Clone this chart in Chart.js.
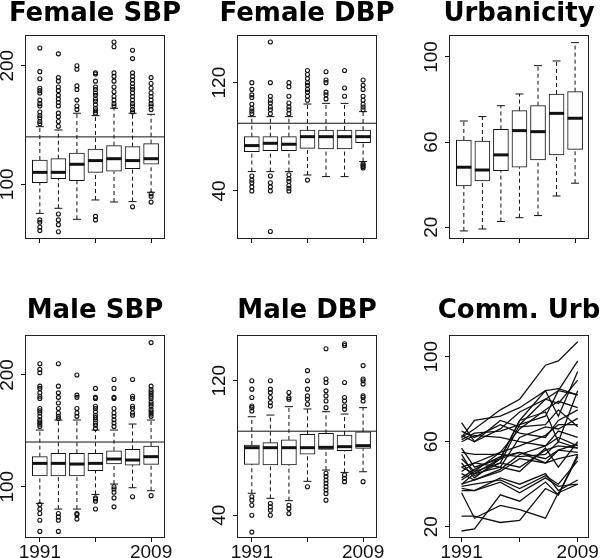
<!DOCTYPE html>
<html><head><meta charset="utf-8">
<script src="https://cdn.jsdelivr.net/npm/chart.js@4/dist/chart.umd.min.js"></script>
<style>
html,body{margin:0;padding:0;background:#fff;overflow:hidden;width:600px;height:558px;position:relative}
canvas{position:absolute}
</style>
</head><body>
<canvas id="p1"></canvas><canvas id="p2"></canvas><canvas id="p3"></canvas>
<canvas id="p4"></canvas><canvas id="p5"></canvas><canvas id="p6"></canvas>
<script>
// ---------- DATA ----------
const years = [1991, 1993, 1997, 2000, 2004, 2006, 2009];
const boxXTicks = [1, 4, 7];
const yearXTicks = [1991, 2000, 2009];
const xTickLabels = ['1991', '', '2009'];

const titles = ['Female SBP', 'Female DBP', 'Urbanicity', 'Male SBP', 'Male DBP', 'Comm. Urb'];
const sbpTicks = [100, 200];
const dbpTicks = [40, 120];
const urbTicks = [20, 60, 100];
const sbpRefLine = 140;
const dbpRefLine = 90;

// box stats per survey year: [lower whisker, Q1, median, Q3, upper whisker]
const femaleSbpBoxes = [
  [75.5, 101.4, 110.1, 120.5, 148.6],
  [79.8, 104.8, 110.1, 121.6, 145.8],
  [70.5, 103.1, 116.9, 126.4, 159.9],
  [86.8, 110.1, 120.0, 129.8, 157.9],
  [85.1, 111.0, 121.6, 132.6, 164.1],
  [85.4, 113.2, 120.0, 131.8, 159.9],
  [93.3, 116.9, 121.6, 134.3, 159.0]
];
const femaleSbpOutliers = [
  [215,195,189,181,179,177,171,168,166,161,158,156,153,151,70,68,64,61],
  [210,190,187,182,179,175,172,169,166,160,157,153,149,75,70,66,60],
  [200,197,183,180,171,166,163],
  [194,193,187,182,180,177,175,172,170,167,164,162,160,73,70],
  [220,216,194,191,187,182,178,174,171,168,166],
  [213,206,194,191,188,185,182,180,177,174,171,168,166,163,161,81],
  [190,185,181,177,174,171,168,166,163,92,90,85]
];

const femaleDbpBoxes = [
  [54.3, 69.0, 73.5, 80.1, 94.9],
  [54.3, 69.8, 75.2, 80.1, 94.9],
  [54.3, 69.8, 74.5, 80.1, 94.9],
  [51.8, 71.5, 80.1, 85.0, 104.2],
  [50.6, 71.0, 80.1, 85.0, 104.7],
  [50.6, 71.0, 80.1, 85.0, 104.7],
  [61.7, 75.7, 80.1, 85.0, 98.6]
];
const femaleDbpOutliers = [
  [120,115,111,109,104,101,99,97,51,48,46,43,40],
  [150,120,110,107,105,102,100,97,51,46,43,40,10],
  [120,117,110,105,102,100,97,52,49,47,44,42,40],
  [129,126,123,120,118,115,113,110,107,48],
  [128,122,120,113,111,108],
  [129,116,110],
  [122,118,115,110,107,104,102,100,60,59,58,57]
];

const urbanBoxes = [
  [18.3, 39.4, 48.2, 61.0, 69.9],
  [19.2, 41.8, 46.9, 60.5, 72.0],
  [22.7, 46.6, 54.0, 66.0, 77.1],
  [24.5, 48.2, 65.4, 74.8, 82.6],
  [25.5, 51.6, 64.9, 77.1, 95.9],
  [34.7, 54.0, 73.5, 82.6, 98.1],
  [40.7, 56.6, 71.2, 83.7, 106.7]
];
const urbanOutliers = [[], [], [], [], [], [], []];

const maleSbpBoxes = [
  [85.1, 109.6, 120.9, 126.9, 150.7],
  [80.0, 109.6, 120.9, 129.9, 159.7],
  [80.0, 109.6, 120.3, 129.9, 159.7],
  [93.1, 114.3, 120.9, 129.9, 150.7],
  [102.4, 120.3, 124.8, 132.2, 150.7],
  [99.1, 119.4, 123.9, 133.4, 156.1],
  [96.4, 120.0, 126.9, 136.4, 159.7]
];
const maleSbpOutliers = [
  [210,205,202,190,188,184,181,179,170,168,166,163,160,158,156,154,84,80,76,70,60],
  [210,190,184,180,175,170,166,163,161,76,73,70,60],
  [200,182,180,170,166,163,76,75,71],
  [188,180,179,172,170,167,164,162,160,157,155,152,90,89,87,80],
  [196,188,180,179,170,166,163,160,157,154,100,98,95,90,82],
  [196,181,179,172,170,166,164,91],
  [229,190,187,185,183,181,179,176,174,172,169,167,165,163,92]
];

const maleDbpBoxes = [
  [53.1, 70.3, 80.2, 81.8, 98.6],
  [50.1, 69.9, 80.2, 83.2, 99.6],
  [48.7, 69.9, 80.2, 84.8, 104.6],
  [60.2, 76.4, 80.2, 88.1, 103.2],
  [66.9, 79.2, 80.4, 88.7, 101.6],
  [65.5, 78.4, 80.8, 87.7, 100.2],
  [65.9, 79.8, 81.4, 89.7, 104.0]
];
const maleDbpOutliers = [
  [120,115,110,105,104,102,51,49,46,40,30],
  [120,115,113,110,107,105,47,45,43,40],
  [113,110,109,46,44,41],
  [126,120,115,111,109,106,57],
  [139,121,119,114,111,108,104,65,63,61,59,57,55,53,49],
  [142,141,119,110,108,105,103,64,62,60],
  [129,121,120,118,111,110,108,60]
];

// community urbanicity trajectories (one row per community, values per survey year)
const commUrb = [
  [62, 66, 75, 80, 96, 98, 107],
  [69, 60, 66, 74, 80, 84, 82],
  [62, 70, 72, 76, 84, 85, 82],
  [61, 64, 65, 68, 72, 84, 98],
  [57, 48, 52, 70, 84, 72, 93],
  [54, 44, 50, 68, 80, 78, 89],
  [52, 46, 55, 66, 75, 79, 76],
  [50, 43, 52, 70, 74, 60, 84],
  [48, 45, 48, 62, 67, 66, 71],
  [46, 50, 55, 58, 63, 68, 68],
  [45, 42, 47, 54, 58, 65, 62],
  [43, 47, 53, 55, 52, 56, 59],
  [42, 46, 50, 48, 56, 58, 57],
  [40, 42, 46, 52, 50, 56, 55],
  [40, 45, 52, 55, 50, 52, 54],
  [39, 40, 42, 38, 44, 40, 51],
  [38, 37, 43, 40, 45, 37, 42],
  [37, 37, 41, 36, 43, 39, 40],
  [36, 24, 30, 28, 24, 36, 40],
  [25, 25, 22, 23, 38, 35, 54],
  [18, 19, 35, 32, 41, 35, 53],
  [60, 63, 62, 60, 58, 62, 58],
  [65, 62, 68, 64, 62, 70, 75],
  [55, 54, 54, 53, 54, 60, 57],
  [48, 50, 48, 46, 57, 48, 60],
  [63, 60, 70, 67, 68, 75, 67]
];

// ---------- DRAWING ----------
const INK = '#111111';

function boxplotDatasets(boxes, outliers, refY, xMin, xMax) {
  const ds = [];
  ds.push({ type: 'line', data: [{x: xMin, y: refY}, {x: xMax, y: refY}],
    borderColor: INK, borderWidth: 1, pointRadius: 0, order: 0 });
  ds.push({ type: 'scatter', data: boxes.map((b, i) => ({x: i + 1, y: b[2]})),
    pointStyle: 'line', pointRadius: 7.5, pointBorderWidth: 3, pointBorderColor: INK, order: 1 });
  const out = [];
  outliers.forEach((arr, i) => arr.forEach(v => out.push({x: i + 1, y: v})));
  ds.push({ type: 'scatter', data: out, pointStyle: 'circle', pointRadius: 2,
    pointBorderWidth: 1.1, pointBorderColor: INK, pointBackgroundColor: 'rgba(0,0,0,0)', order: 2 });
  const caps = [];
  boxes.forEach((b, i) => { caps.push({x: i + 1, y: b[0]}); caps.push({x: i + 1, y: b[4]}); });
  ds.push({ type: 'scatter', data: caps, pointStyle: 'line', pointRadius: 4,
    pointBorderWidth: 1, pointBorderColor: INK, order: 3 });
  const wh = [];
  boxes.forEach((b, i) => {
    const x = i + 1;
    wh.push({x, y: b[0]}, {x, y: b[1]}, {x, y: null}, {x, y: b[3]}, {x, y: b[4]}, {x, y: null});
  });
  ds.push({ type: 'line', data: wh, borderColor: INK, borderWidth: 1, borderDash: [4, 3],
    pointRadius: 0, spanGaps: false, order: 4 });
  ds.push({ type: 'bar', data: boxes.map((b, i) => ({x: i + 1, y: [b[1], b[3]]})),
    backgroundColor: '#ffffff', borderColor: INK, borderWidth: 1, borderSkipped: false,
    barThickness: 15, order: 5 });
  return ds;
}

function lineDatasets(rows) {
  return rows.map(r => ({ type: 'line', data: years.map((yr, i) => ({x: yr, y: r[i]})),
    borderColor: INK, borderWidth: 1.3, pointRadius: 0, tension: 0 }));
}

const framePlugin = {
  id: 'frame',
  afterDatasetsDraw(chart) {
    const {ctx, chartArea: a} = chart;
    ctx.save();
    ctx.strokeStyle = '#222'; ctx.lineWidth = 1;
    ctx.strokeRect(a.left + 0.5, a.top + 0.5, a.right - a.left - 1, a.bottom - a.top - 1);
    ctx.restore();
  }
};

function makePanel(id, p) {
  const el = document.getElementById(id);
  el.width = p.w; el.height = p.h;
  el.style.left = p.left + 'px'; el.style.top = p.top + 'px';
  el.style.width = p.w + 'px'; el.style.height = p.h + 'px';
  new Chart(el, {
    type: 'scatter',
    data: { datasets: p.datasets },
    options: {
      responsive: false, animation: false, devicePixelRatio: 1, events: [],
      layout: { padding: 0 },
      plugins: {
        legend: { display: false }, tooltip: { enabled: false },
        title: { display: true, text: p.title, fullSize: true, align: 'center', color: '#000',
          font: { family: 'DejaVu Sans', weight: 'bold', size: 26, lineHeight: 1 },
          padding: { top: p.tTop, bottom: p.tBottom } }
      },
      scales: {
        x: { type: 'linear', position: 'bottom', min: p.xMin, max: p.xMax, offset: false, bounds: 'data',
          afterBuildTicks: s => { s.ticks = p.xTicks.map(v => ({value: v})); },
          afterFit: s => { s.height = p.xH; },
          grid: { offset: false, drawOnChartArea: false, drawTicks: true, tickLength: 4, color: INK },
          border: { display: false },
          ticks: { autoSkip: false, minRotation: 0, maxRotation: 0, padding: -1, color: '#111',
            font: { family: 'Liberation Sans', size: 19 },
            callback: (v, i) => p.showX ? xTickLabels[i] : '' } },
        y: { type: 'linear', position: 'left', min: p.yMin, max: p.yMax, bounds: 'data',
          afterBuildTicks: s => { s.ticks = p.yTicks.map(v => ({value: v})); },
          afterFit: s => { s.width = 30; },
          grid: { drawOnChartArea: false, drawTicks: true, tickLength: 4, color: INK },
          border: { display: false },
          ticks: { autoSkip: false, minRotation: 90, maxRotation: 90, crossAlign: 'center',
            padding: -3, color: '#111', font: { family: 'Liberation Sans', size: 19 } } },
        y2: { type: 'linear', position: 'right', min: 0, max: 1,
          afterFit: s => { s.width = 30; },
          grid: { display: false }, border: { display: false }, ticks: { display: false } }
      }
    },
    plugins: [framePlugin]
  });
}

const BX0 = 0.2, BX1 = 7.75;
const row1 = { top: 0, h: 280, tTop: 1, tBottom: 8, xH: 41, showX: false };
const row2 = { top: 280, h: 278, tTop: 18, tBottom: 11, xH: 20, showX: true };

makePanel('p1', Object.assign({}, row1, { left: -5, w: 200, title: titles[0], xMin: BX0, xMax: BX1, xTicks: boxXTicks,
  yMin: 53.9, yMax: 225.9, yTicks: sbpTicks,
  datasets: boxplotDatasets(femaleSbpBoxes, femaleSbpOutliers, sbpRefLine, BX0, BX1) }));
makePanel('p2', Object.assign({}, row1, { left: 207, w: 200, title: titles[1], xMin: BX0, xMax: BX1, xTicks: boxXTicks,
  yMin: 4.5, yMax: 155.2, yTicks: dbpTicks,
  datasets: boxplotDatasets(femaleDbpBoxes, femaleDbpOutliers, dbpRefLine, BX0, BX1) }));
makePanel('p3', Object.assign({}, row1, { left: 419, w: 200, title: titles[2], xMin: BX0, xMax: BX1, xTicks: boxXTicks,
  yMin: 14.5, yMax: 110.3, yTicks: urbTicks,
  datasets: boxplotDatasets(urbanBoxes, urbanOutliers, null, BX0, BX1).slice(1) }));
makePanel('p4', Object.assign({}, row2, { left: -5, w: 200, title: titles[3], xMin: BX0, xMax: BX1, xTicks: boxXTicks,
  yMin: 54.1, yMax: 235.8, yTicks: sbpTicks,
  datasets: boxplotDatasets(maleSbpBoxes, maleSbpOutliers, sbpRefLine, BX0, BX1) }));
makePanel('p5', Object.assign({}, row2, { left: 207, w: 200, title: titles[4], xMin: BX0, xMax: BX1, xTicks: boxXTicks,
  yMin: 26.5, yMax: 147.2, yTicks: dbpTicks,
  datasets: boxplotDatasets(maleDbpBoxes, maleDbpOutliers, dbpRefLine, BX0, BX1) }));
makePanel('p6', Object.assign({}, row2, { left: 419, w: 200, title: titles[5], xMin: 1989.05, xMax: 2010.75, xTicks: yearXTicks,
  yMin: 14.7, yMax: 110.2, yTicks: urbTicks,
  datasets: lineDatasets(commUrb) }));
</script>
</body></html>
